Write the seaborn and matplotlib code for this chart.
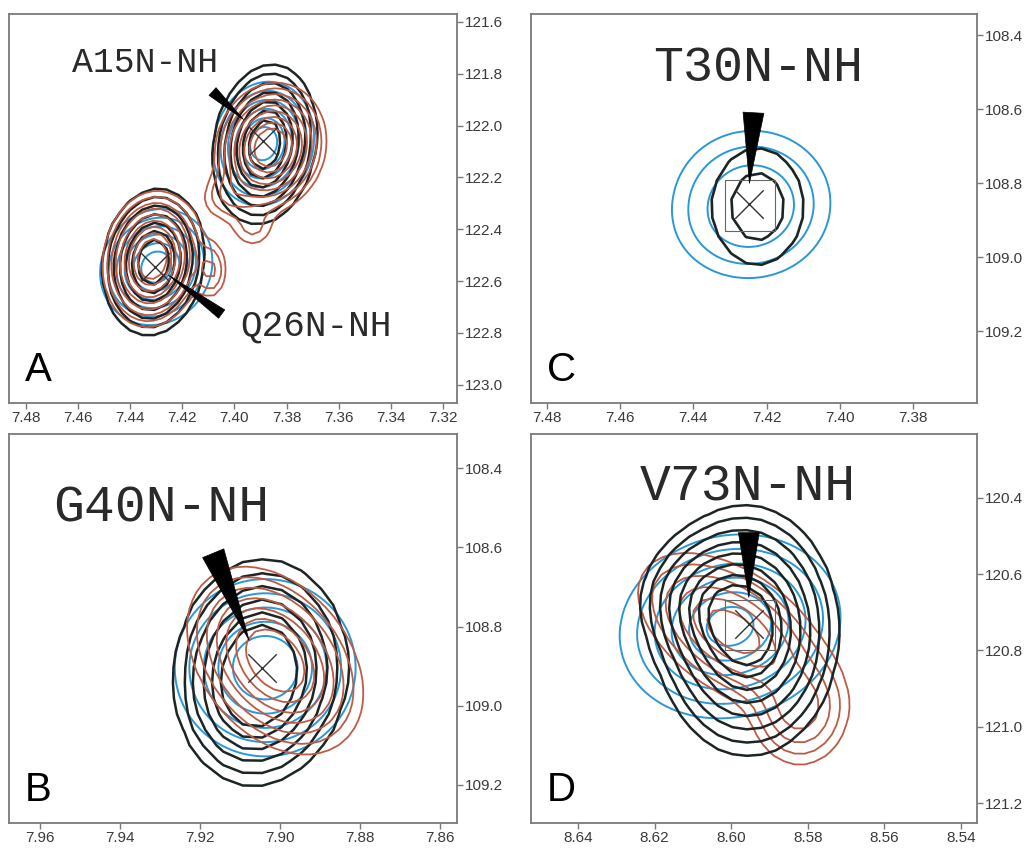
import numpy as np
import matplotlib
matplotlib.use("Agg")
import matplotlib.pyplot as plt
import seaborn as sns
import pandas as pd

sns.set_style("white")
plt.rcParams["font.family"] = ["Liberation Sans", "DejaVu Sans"]

BLACK = "#1c2424"
BLUE = "#2a98d6"
RED = "#bd5b45"
FRAME = "#7a7a7a"

# ---------------- data (ppm) ----------------
# peak model per spectrum: (1H ppm, 15N ppm, sigma_H, sigma_N, rho, amplitude)
A_black = [(7.3884, 122.073, 0.0092, 0.143, 0.15, 1.0),
           (7.4311, 122.527, 0.0090, 0.131, 0.10, 1.0)]
A_blue = [(7.3888, 122.070, 0.0090, 0.111, 0.10, 1.0),
          (7.4300, 122.546, 0.0100, 0.104, 0.10, 1.0)]
A_red = [(7.3861, 122.085, 0.0099, 0.116, 0.10, 1.0),
         (7.4315, 122.515, 0.0088, 0.122, 0.10, 1.0),
         (7.4034, 122.275, 0.0060, 0.060, 0.00, 0.16),
         (7.3930, 122.400, 0.0060, 0.060, 0.00, 0.14),
         (7.4085, 122.560, 0.0040, 0.075, 0.00, 0.20)]
B_black = [(7.9042, 108.900, 0.0097, 0.125, 0.00, 1.0),
           (7.9088, 109.000, 0.0080, 0.100, 0.00, 0.35)]
B_blue = [(7.90375, 108.904, 0.0105, 0.104, 0.00, 1.0)]
B_red = [(7.90125, 108.886, 0.0102, 0.110, -0.35, 1.0)]
C_blue = [(7.4238, 108.849, 0.0098, 0.0887, 0.00, 1.0),
          (7.4271, 108.917, 0.0090, 0.070, 0.00, 0.25)]
C_black = [(7.4225, 108.8626, 0.0080, 0.100, 0.00, 1.0)]
D_black = [(8.5956, 120.750, 0.0105, 0.145, 0.00, 1.0),
           (8.6069, 120.667, 0.0090, 0.090, 0.00, 0.30)]
D_blue = [(8.6003, 120.737, 0.0134, 0.112, 0.10, 1.0)]
D_red = [(8.5995, 120.750, 0.0115, 0.095, -0.50, 1.0),
         (8.5821, 120.959, 0.0065, 0.075, 0.00, 0.55)]

# contour levels
A_black_lv = [0.099, 0.161, 0.252, 0.370, 0.510, 0.655, 0.799]
A_blue_lv = [0.099, 0.187, 0.315, 0.481, 0.673, 0.845]
A_red_lv = [0.099, 0.146, 0.209, 0.282, 0.375, 0.481, 0.594, 0.709, 0.815]
B_black_lv = [0.099, 0.174, 0.278, 0.418, 0.576, 0.743]
B_blue_lv = [0.099, 0.196, 0.344, 0.537, 0.743]
B_red_lv = [0.099, 0.161, 0.248, 0.360, 0.487, 0.631, 0.772]
C_blue_lv = [0.10, 0.25, 0.56]
C_black_lv = [0.30, 0.66]
D_black_lv = [0.080, 0.133, 0.209, 0.310, 0.435, 0.576, 0.720, 0.850]
D_blue_lv = [0.099, 0.194, 0.339, 0.522, 0.726, 0.900]
D_red_lv = [0.099, 0.184, 0.310, 0.475, 0.661, 0.835]

# axis ranges and ticks
A_xlim, A_ylim = (7.4865, 7.3146), (123.07, 121.57)
B_xlim, B_ylim = (7.9678, 7.8558), (109.296, 108.314)
C_xlim, C_ylim = (7.4844, 7.3625), (109.393, 108.343)
D_xlim, D_ylim = (8.6523, 8.5358), (121.252, 120.233)
A_xticks = [7.48, 7.46, 7.44, 7.42, 7.40, 7.38, 7.36, 7.34, 7.32]
A_yticks = [121.6, 121.8, 122.0, 122.2, 122.4, 122.6, 122.8, 123.0]
B_xticks = [7.96, 7.94, 7.92, 7.90, 7.88, 7.86]
B_yticks = [108.4, 108.6, 108.8, 109.0, 109.2]
C_xticks = [7.48, 7.46, 7.44, 7.42, 7.40, 7.38]
C_yticks = [108.4, 108.6, 108.8, 109.0, 109.2]
D_xticks = [8.64, 8.62, 8.60, 8.58, 8.56, 8.54]
D_yticks = [120.4, 120.6, 120.8, 121.0, 121.2]

# peak labels: (text, x, y, size)
A_labels = [("A15N-NH", 7.4342, 121.758, 25), ("Q26N-NH", 7.3687, 122.773, 26)]
B_labels = [("G40N-NH", 7.9298, 108.501, 37)]
C_labels = [("T30N-NH", 7.4222, 108.490, 36)]
D_labels = [("V73N-NH", 8.5956, 120.373, 37)]

# pointer wedges: (base x, base y, tip x, tip y, width)
A_wedges = [(7.4084, 121.869, 7.3965, 121.977, 0.75),
            (7.4049, 122.727, 7.4253, 122.577, 0.75)]
B_wedges = [(7.91675, 108.615, 7.90775, 108.8355, 1.65)]
C_wedges = [(7.4236, 108.6095, 7.4247, 108.800, 1.5)]
D_wedges = [(8.5954, 120.4915, 8.5954, 120.661, 1.5)]

# picked peak positions (crosses) and boxes
A_peaks_x, A_peaks_y = [7.3890, 7.4304], [122.060, 122.546]
B_peaks_x, B_peaks_y = [7.9045], [108.904]
C_peaks_x, C_peaks_y = [7.4249], [108.857]
D_peaks_x, D_peaks_y = [8.5953], [120.732]
C_box_x, C_box_y = [7.4245], [108.860]
D_box_x, D_box_y = [8.5952], [120.733]


def field(peaks, X, Y):
    Z = np.zeros_like(X)
    for x0, y0, sx, sy, rho, a in peaks:
        dx = (X - x0) / sx
        dy = (Y - y0) / sy
        Z += a * np.exp(-(dx**2 - 2 * rho * dx * dy + dy**2) / (2 * (1 - rho**2)))
    return Z


W, H = 1028, 849
fig = plt.figure(figsize=(W / 100, H / 100), dpi=100)


def make_ax(x0, y0, x1, y1):
    return fig.add_axes([x0 / W, 1 - y1 / H, (x1 - x0) / W, (y1 - y0) / H])


axA = make_ax(9, 14, 457, 403)
axC = make_ax(531, 14, 977, 403)
axB = make_ax(9, 434, 457, 823)
axD = make_ax(531, 434, 977, 823)

panels = [
    dict(ax=axA, letter="A", xlim=A_xlim, ylim=A_ylim, xt=A_xticks, yt=A_yticks,
         spectra=[(A_blue, A_blue_lv, BLUE, 1.4, (120, 120)),
                  (A_black, A_black_lv, BLACK, 1.8, (38, 40)),
                  (A_red, A_red_lv, RED, 1.3, (60, 62))],
         labels=A_labels, wedges=A_wedges, px=A_peaks_x, py=A_peaks_y, bx=[], by=[]),
    dict(ax=axB, letter="B", xlim=B_xlim, ylim=B_ylim, xt=B_xticks, yt=B_yticks,
         spectra=[(B_blue, B_blue_lv, BLUE, 1.4, (110, 110)),
                  (B_black, B_black_lv, BLACK, 1.8, (24, 26)),
                  (B_red, B_red_lv, RED, 1.3, (50, 50))],
         labels=B_labels, wedges=B_wedges, px=B_peaks_x, py=B_peaks_y, bx=[], by=[]),
    dict(ax=axC, letter="C", xlim=C_xlim, ylim=C_ylim, xt=C_xticks, yt=C_yticks,
         spectra=[(C_blue, C_blue_lv, BLUE, 1.4, (120, 120)),
                  (C_black, C_black_lv, BLACK, 1.9, (30, 22))],
         labels=C_labels, wedges=C_wedges, px=C_peaks_x, py=C_peaks_y, bx=C_box_x, by=C_box_y),
    dict(ax=axD, letter="D", xlim=D_xlim, ylim=D_ylim, xt=D_xticks, yt=D_yticks,
         spectra=[(D_blue, D_blue_lv, BLUE, 1.4, (90, 90)),
                  (D_red, D_red_lv, RED, 1.3, (45, 45)),
                  (D_black, D_black_lv, BLACK, 1.8, (32, 30))],
         labels=D_labels, wedges=D_wedges, px=D_peaks_x, py=D_peaks_y, bx=D_box_x, by=D_box_y),
]

for p in panels:
    ax = p["ax"]
    xlo, xhi = min(p["xlim"]), max(p["xlim"])
    ylo, yhi = min(p["ylim"]), max(p["ylim"])
    for peaks, lv, col, lw, (nx, ny) in p["spectra"]:
        gx = np.linspace(xlo, xhi, nx)
        gy = np.linspace(ylo, yhi, ny)
        X, Y = np.meshgrid(gx, gy)
        Z = field(peaks, X, Y)
        ax.contour(X, Y, Z, levels=lv, colors=col, linewidths=lw)
    # picked peaks
    df = pd.DataFrame({"x": p["px"], "y": p["py"]})
    sns.scatterplot(data=df, x="x", y="y", marker="x", s=420, color="#333333",
                    linewidth=1.0, ax=ax, legend=False, zorder=5)
    if p["bx"]:
        dfb = pd.DataFrame({"x": p["bx"], "y": p["by"]})
        sns.scatterplot(data=dfb, x="x", y="y", marker="s", s=1300, facecolor="none",
                        edgecolor="#666666", linewidth=0.8, ax=ax, legend=False, zorder=4)
    for bx, by, tx, ty, w in p["wedges"]:
        ax.annotate("", xy=(tx, ty), xytext=(bx, by),
                    arrowprops=dict(arrowstyle=f"wedge,tail_width={w},shrink_factor=0.5",
                                    fc="black", ec="black", lw=0.5, shrinkA=0, shrinkB=0),
                    zorder=6)
    for txt, tx, ty, sz in p["labels"]:
        ax.text(tx, ty, txt, ha="center", va="center", fontsize=sz,
                family=["Liberation Mono", "DejaVu Sans Mono"], color="#2a2a2a", zorder=7)
    ax.text(0.035, 0.035, p["letter"], transform=ax.transAxes, fontsize=29,
            ha="left", va="bottom", color="black")
    ax.set_xlim(p["xlim"])
    ax.set_ylim(p["ylim"])
    ax.set_xticks(p["xt"])
    ax.set_yticks(p["yt"])
    ax.set_xticklabels([f"{v:.2f}" for v in p["xt"]])
    ax.set_yticklabels([f"{v:.1f}" for v in p["yt"]])
    ax.yaxis.tick_right()
    ax.set_xlabel("")
    ax.set_ylabel("")
    ax.tick_params(axis="both", which="major", direction="out", length=4, width=1,
                   color=FRAME, labelcolor="#3a3a3a", labelsize=11, pad=2,
                   bottom=True, right=True, left=False, top=False)
    for s in ax.spines.values():
        s.set_color(FRAME)
        s.set_linewidth(1.3)

fig.savefig("out.png", dpi=100, facecolor="white")
